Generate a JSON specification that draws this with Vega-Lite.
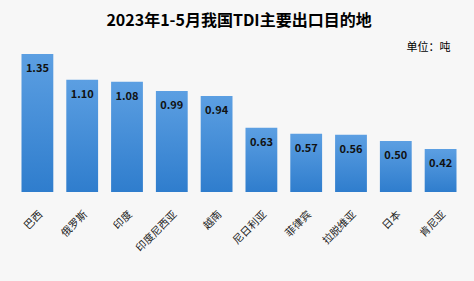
{
  "$schema": "https://vega.github.io/schema/vega-lite/v6.json",
  "width": 448,
  "height": 143,
  "autosize": "none",
  "padding": {"left": 15, "top": 49, "right": 11, "bottom": 89},
  "background": "#f7f7f7",
  "title": {
    "text": "2023年1-5月我国TDI主要出口目的地",
    "font": "Noto Sans CJK SC",
    "fontSize": 16,
    "fontWeight": "bold",
    "color": "#000000",
    "anchor": "middle",
    "offset": 12
  },
  "config": {
    "view": {"stroke": null},
    "font": "Noto Sans CJK SC"
  },
  "data": {
    "values": [
      {"country": "巴西", "value": 1.35},
      {"country": "俄罗斯", "value": 1.10},
      {"country": "印度", "value": 1.08},
      {"country": "印度尼西亚", "value": 0.99},
      {"country": "越南", "value": 0.94},
      {"country": "尼日利亚", "value": 0.63},
      {"country": "菲律宾", "value": 0.57},
      {"country": "拉脱维亚", "value": 0.56},
      {"country": "日本", "value": 0.50},
      {"country": "肯尼亚", "value": 0.42}
    ]
  },
  "encoding": {
    "x": {
      "field": "country",
      "type": "nominal",
      "sort": null,
      "scale": {"paddingInner": 0.29, "paddingOuter": 0.145},
      "axis": {
        "title": null,
        "labelAngle": -45,
        "labelFontSize": 10.5,
        "labelColor": "#222222",
        "labelPadding": 17,
        "domain": false,
        "ticks": false
      }
    },
    "y": {
      "field": "value",
      "type": "quantitative",
      "scale": {"domain": [0, 1.4], "nice": false},
      "axis": {
        "orient": "right",
        "labels": false,
        "ticks": false,
        "domain": false,
        "grid": false,
        "title": "单位：吨",
        "titleAngle": 0,
        "titleFontSize": 11,
        "titleFontWeight": "normal",
        "titleColor": "#000000",
        "titleAlign": "right",
        "titleBaseline": "bottom",
        "titleX": -13,
        "titleY": 3
      }
    }
  },
  "layer": [
    {
      "mark": {
        "type": "bar",
        "color": {
          "x1": 0, "y1": 0, "x2": 0, "y2": 1,
          "gradient": "linear",
          "stops": [
            {"offset": 0, "color": "#5c9fe2"},
            {"offset": 1, "color": "#2f7dcd"}
          ]
        }
      }
    },
    {
      "mark": {
        "type": "text",
        "baseline": "middle",
        "dy": 15,
        "fontSize": 11,
        "fontWeight": "bold",
        "color": "#111111"
      },
      "encoding": {
        "text": {"field": "value", "type": "quantitative", "format": ".2f"}
      }
    }
  ]
}
